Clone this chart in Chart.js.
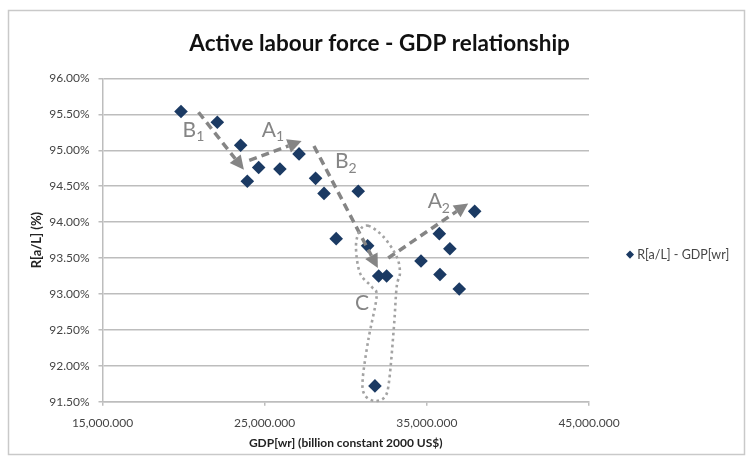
<!DOCTYPE html>
<html>
<head>
<meta charset="utf-8">
<title>Active labour force - GDP relationship</title>
<script src="https://cdn.jsdelivr.net/npm/chart.js@4.4.1/dist/chart.umd.min.js"></script>
<style>
  html, body { margin: 0; padding: 0; background: #ffffff; }
  #wrap { width: 752px; height: 461px; }
</style>
</head>
<body>
<div id="wrap"><canvas id="chart" width="752" height="461"></canvas></div>
<script>
// ---- data -------------------------------------------------------------
const seriesName = 'R[a/L] - GDP[wr]';
// world GDP, billion constant 2000 US$
const gdp = [19840, 22080, 23520, 23930, 24630, 25940, 27120, 28140, 28660, 30770,
             29410, 31350, 32030, 32520, 31800, 34640, 35770, 36420, 35810, 37000, 37950];
// active share of the labour force, %
const ratio = [95.54, 95.39, 95.07, 94.57, 94.76, 94.74, 94.95, 94.61, 94.40, 94.43,
               93.77, 93.67, 93.25, 93.25, 91.72, 93.46, 93.84, 93.63, 93.27, 93.07, 94.15];
const xTicks = [15000, 25000, 35000, 45000];
const yTicks = [91.5, 92.0, 92.5, 93.0, 93.5, 94.0, 94.5, 95.0, 95.5, 96.0];

// phase arrows (start -> tip), in data units
const phaseArrows = [
  [[20920, 95.53], [23720, 94.73]],   // B1
  [[24050, 94.86], [27280, 95.13]],   // A1
  [[28040, 95.06], [31980, 93.36]],   // B2
  [[32620, 93.50], [37550, 94.26]]    // A2
];
const phaseLabels = [
  { main: 'B', sub: '1', at: [19940, 95.19] },
  { main: 'A', sub: '1', at: [24820, 95.19] },
  { main: 'B', sub: '2', at: [29330, 94.75] },
  { main: 'A', sub: '2', at: [35050, 94.19] },
  { main: 'C', sub: '',  at: [30570, 92.78] }
];
// dotted loop around the C cluster
const loopC = [
  [31390, 93.95], [32310, 93.80], [33140, 93.52], [33340, 93.29], [33140, 93.10],
  [32970, 92.54], [32680, 91.80], [32420, 91.57], [31800, 91.51], [31180, 91.59],
  [31040, 91.80], [31390, 92.36], [31900, 92.96], [31600, 93.10], [30880, 93.29],
  [30630, 93.66], [30880, 93.89]
];

// ---- styling ----------------------------------------------------------
const FONT = 'Lato';
const axisText = '#454545';
const gridColor = '#bdbdbd';
const markColor = '#1b3a63';
const noteColor = '#858585';
const LEGEND_FONT = { family: FONT, size: 12.5 };
const LEGEND_PAD = 40;
const LEGEND_BOX = 2;

const numFmt = new Intl.NumberFormat('en-US', { minimumFractionDigits: 3, maximumFractionDigits: 3 });

// right padding so the plot ends where the legend column begins
// (Chart.js adds 10px to a vertical legend's fitted width)
function legendItemWidth(text) {
  const c = document.createElement('canvas').getContext('2d');
  c.font = LEGEND_FONT.size + 'px ' + LEGEND_FONT.family;
  return LEGEND_BOX + LEGEND_FONT.size / 2 + c.measureText(text).width;
}
const rightPad = Math.max(0, 752 - 589 - LEGEND_PAD - 10 - legendItemWidth(seriesName));

// ---- plugins ----------------------------------------------------------
const framePlugin = {
  id: 'frame',
  beforeDraw(chart) {
    const { ctx, width, height } = chart;
    ctx.save();
    ctx.fillStyle = '#ffffff';
    ctx.fillRect(0, 0, width, height);
    ctx.strokeStyle = '#c9c9c9';
    ctx.lineWidth = 1.5;
    ctx.strokeRect(8.5, 10.5, 736, 444);
    ctx.restore();
  }
};

// keep the legend a little below the plot's middle
const legendShift = {
  id: 'legendShift',
  afterLayout(chart) {
    const lg = chart.legend;
    if (!lg) return;
    lg.top += 14.5;
    lg.bottom += 14.5;
  }
};

function px(chart, p) {
  return [chart.scales.x.getPixelForValue(p[0]), chart.scales.y.getPixelForValue(p[1])];
}

const phaseNotes = {
  id: 'phaseNotes',
  afterDatasetsDraw(chart) {
    const { ctx } = chart;
    ctx.save();

    // dashed arrows
    const head = 14, halfW = 7;
    phaseArrows.forEach(([a, b]) => {
      const [x0, y0] = px(chart, a);
      const [x1, y1] = px(chart, b);
      const ang = Math.atan2(y1 - y0, x1 - x0);
      const bx = x1 - head * Math.cos(ang);
      const by = y1 - head * Math.sin(ang);
      ctx.strokeStyle = noteColor;
      ctx.lineWidth = 3.5;
      ctx.setLineDash([8, 5]);
      ctx.beginPath();
      ctx.moveTo(x0, y0);
      ctx.lineTo(bx, by);
      ctx.stroke();
      ctx.setLineDash([]);
      ctx.fillStyle = noteColor;
      ctx.beginPath();
      ctx.moveTo(x1, y1);
      ctx.lineTo(bx + halfW * Math.sin(ang), by - halfW * Math.cos(ang));
      ctx.lineTo(bx - halfW * Math.sin(ang), by + halfW * Math.cos(ang));
      ctx.closePath();
      ctx.fill();
    });

    // dotted loop (closed Catmull-Rom curve)
    const pts = loopC.map(p => px(chart, p));
    const n = pts.length;
    ctx.strokeStyle = '#a3a3a3';
    ctx.lineWidth = 2.6;
    ctx.setLineDash([2.6, 3.4]);
    ctx.beginPath();
    ctx.moveTo(pts[0][0], pts[0][1]);
    for (let i = 0; i < n; i++) {
      const p0 = pts[(i - 1 + n) % n], p1 = pts[i], p2 = pts[(i + 1) % n], p3 = pts[(i + 2) % n];
      ctx.bezierCurveTo(
        p1[0] + (p2[0] - p0[0]) / 6, p1[1] + (p2[1] - p0[1]) / 6,
        p2[0] - (p3[0] - p1[0]) / 6, p2[1] - (p3[1] - p1[1]) / 6,
        p2[0], p2[1]);
    }
    ctx.stroke();
    ctx.setLineDash([]);

    // phase letters with subscripts
    ctx.fillStyle = noteColor;
    ctx.textBaseline = 'alphabetic';
    ctx.textAlign = 'left';
    phaseLabels.forEach(l => {
      const [x, y] = px(chart, l.at);
      ctx.font = '21px ' + FONT;
      ctx.fillText(l.main, x, y);
      const w = ctx.measureText(l.main).width;
      if (l.sub) {
        ctx.font = '14px ' + FONT;
        ctx.fillText(l.sub, x + w, y + 4.5);
      }
    });
    ctx.restore();
  }
};

// ---- chart ------------------------------------------------------------
new Chart(document.getElementById('chart'), {
  type: 'scatter',
  data: {
    datasets: [{
      label: seriesName,
      data: gdp.map((g, i) => ({ x: g, y: ratio[i] })),
      pointStyle: 'rectRot',
      pointRadius: 6.8,
      pointHoverRadius: 6.8,
      backgroundColor: markColor,
      borderColor: markColor,
      borderWidth: 0
    }]
  },
  options: {
    responsive: false,
    animation: false,
    devicePixelRatio: 1,
    layout: { padding: { top: 10, bottom: 10, left: 20, right: rightPad } },
    plugins: {
      title: {
        display: true,
        text: 'Active labour force - GDP relationship',
        color: '#111111',
        font: { family: FONT, size: 22.5, weight: 'bold' },
        padding: { top: 20.5, bottom: 21 }
      },
      legend: {
        position: 'right',
        fullSize: false,
        labels: {
          usePointStyle: true,
          boxWidth: LEGEND_BOX,
          boxHeight: 5.7,
          padding: LEGEND_PAD,
          color: axisText,
          font: LEGEND_FONT
        }
      },
      tooltip: { enabled: false }
    },
    scales: {
      x: {
        type: 'linear',
        min: xTicks[0],
        max: xTicks[xTicks.length - 1],
        afterBuildTicks: s => { s.ticks = xTicks.map(v => ({ value: v })); },
        afterFit: s => { s.height = 49.3; },
        grid: { drawOnChartArea: false, drawTicks: true, tickLength: 4, color: gridColor, lineWidth: 1.5 },
        border: { color: gridColor, width: 1.5 },
        ticks: {
          padding: 10,
          color: axisText,
          font: { family: FONT, size: 12 },
          maxRotation: 0,
          autoSkip: false,
          callback: v => numFmt.format(v)
        },
        title: {
          display: true,
          text: 'GDP[wr] (billion constant 2000 US$)',
          color: '#222222',
          font: { family: FONT, size: 12, weight: 'bold' },
          padding: { top: 4, bottom: 0.8 }
        }
      },
      y: {
        min: yTicks[0],
        max: yTicks[yTicks.length - 1],
        afterBuildTicks: s => { s.ticks = yTicks.map(v => ({ value: v })); },
        afterFit: s => { s.width = 82.5; },
        grid: { color: gridColor, lineWidth: 1.5, tickLength: 4 },
        border: { color: gridColor, width: 1.5 },
        ticks: {
          padding: 9,
          color: axisText,
          font: { family: FONT, size: 12 },
          callback: v => v.toFixed(2) + '%'
        },
        title: {
          display: true,
          text: 'R[a/L] (%)',
          color: '#222222',
          font: { family: FONT, size: 13, weight: 'bold' },
          padding: { top: 8.9, bottom: 4 }
        }
      }
    }
  },
  plugins: [framePlugin, legendShift, phaseNotes]
});
</script>
</body>
</html>
